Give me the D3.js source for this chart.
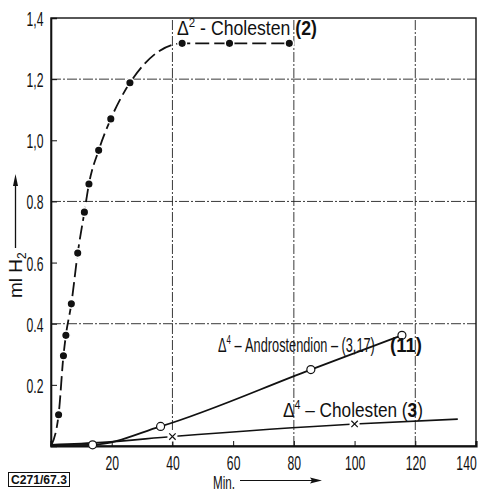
<!DOCTYPE html>
<html><head><meta charset="utf-8">
<script src="https://cdn.jsdelivr.net/npm/d3@7"></script>
<style>body{margin:0;background:#fff} svg{display:block}</style>
</head><body><svg id="c" width="479" height="496"></svg>
<script>
// ---- data ----
const xTicks = [20, 40, 60, 80, 100, 120, 140];
const yTicks = [0.2, 0.4, 0.6, 0.8, 1.0, 1.2, 1.4];
const yTickLabels = ["0.2", "0.4", "0.6", "0.8", "1,0", "1,2", "1,4"];
const gridX = [40, 80, 120];
const gridY = [0.4, 0.8, 1.2];
// Δ2-Cholesten (2), filled circles
const chol2Min = [2.5, 4.1, 4.9, 6.7, 8.8, 11.0, 12.5, 15.7, 19.7, 26.0, 43.2, 58.8, 78.5];
const chol2H2  = [0.102, 0.295, 0.362, 0.465, 0.631, 0.765, 0.857, 0.967, 1.070, 1.188, 1.317, 1.317, 1.317];
const chol2StartMin = [0], chol2StartH2 = [0];
// Δ4-Androstendion-(3,17) (11), open circles
const andrMin = [13.7, 36.1, 85.6, 115.6];
const andrH2  = [0.004, 0.064, 0.250, 0.362];
const andrStartMin = [0], andrStartH2 = [0.003];
// Δ4-Cholesten (3), crosses
const chol3Min = [40, 100];
const chol3H2  = [0.031, 0.072];
const chol3LineMin = [0, 17, 40, 100, 134];
const chol3LineH2  = [0.004, 0.012, 0.031, 0.072, 0.088];

// ---- layout ----
const svg = d3.select("#c");
const F = "'Liberation Sans', Arial, sans-serif";
const x = d3.scaleLinear().domain([0, 140]).range([51, 476]);
const y = d3.scaleLinear().domain([0, 1.4]).range([446, 18]);
const zip = (a, b) => a.map((v, i) => [v, b[i]]);

// grid
const grid = svg.append("g").attr("stroke", "#222").attr("stroke-width", 0.9)
  .attr("stroke-dasharray", "10,2,2,2");
grid.selectAll(".gx").data(gridX).join("line")
  .attr("x1", d => x(d)).attr("x2", d => x(d)).attr("y1", y(0)).attr("y2", y(1.4));
grid.selectAll(".gy").data(gridY).join("line")
  .attr("x1", x(0)).attr("x2", x(140)).attr("y1", d => y(d)).attr("y2", d => y(d));

// frame
svg.append("rect").attr("x", x(0)).attr("y", y(1.4)).attr("width", x(140) - x(0))
  .attr("height", y(0) - y(1.4)).attr("fill", "none").attr("stroke", "#111").attr("stroke-width", 1.4);

// axes
const sxT = 0.58;
const xAxis = svg.append("g").attr("transform", `translate(0,${y(0)})`)
  .call(d3.axisBottom(x).tickValues(xTicks).tickSize(-5).tickFormat(d3.format("d")));
xAxis.select(".domain").attr("stroke-width", 2.2).attr("stroke", "#111");
xAxis.selectAll(".tick line").attr("stroke", "#111").attr("stroke-width", 1);
xAxis.selectAll(".tick text").attr("font-family", F).attr("font-size", 21).attr("fill", "#111")
  .attr("y", 24).attr("dy", 0)
  .attr("x", d => d === 140 ? -10 / sxT : 0)
  .attr("transform", `scale(${sxT},1)`);

const yAxis = svg.append("g").attr("transform", `translate(${x(0)},0)`)
  .call(d3.axisLeft(y).tickValues(yTicks).tickSize(-6).tickFormat((d, i) => yTickLabels[i]));
yAxis.select(".domain").attr("stroke-width", 1.6).attr("stroke", "#111");
yAxis.selectAll(".tick line").attr("stroke", "#111").attr("stroke-width", 1);
yAxis.selectAll(".tick text").attr("font-family", F).attr("font-size", 21).attr("fill", "#111")
  .attr("x", -7.5 / sxT).attr("dy", "0.36em").attr("transform", `scale(${sxT},1)`);

// lines
const line = d3.line().x(d => x(d[0])).y(d => y(d[1])).curve(d3.curveMonotoneX);
svg.append("path").datum(zip(chol2StartMin.concat(chol2Min), chol2StartH2.concat(chol2H2)))
  .attr("d", line).attr("fill", "none").attr("stroke", "#111").attr("stroke-width", 1.8)
  .attr("stroke-dasharray", "14,5");
svg.append("path").datum(zip(andrStartMin.concat(andrMin), andrStartH2.concat(andrH2)))
  .attr("d", line).attr("fill", "none").attr("stroke", "#111").attr("stroke-width", 1.8);
svg.append("path").datum(zip(chol3LineMin, chol3LineH2))
  .attr("d", line).attr("fill", "none").attr("stroke", "#111").attr("stroke-width", 1.6);

// markers
svg.append("g").selectAll("circle").data(zip(chol2Min, chol2H2)).join("circle")
  .attr("cx", d => x(d[0])).attr("cy", d => y(d[1])).attr("r", 4.3)
  .attr("fill", "#111").attr("stroke", "#fff").attr("stroke-width", 1.5);
svg.append("g").selectAll("circle").data(zip(andrMin, andrH2)).join("circle")
  .attr("cx", d => x(d[0])).attr("cy", d => y(d[1])).attr("r", 4)
  .attr("fill", "#fff").attr("stroke", "#111").attr("stroke-width", 1.2);
const cr = svg.append("g").selectAll("g").data(zip(chol3Min, chol3H2)).join("g")
  .attr("transform", d => `translate(${x(d[0])},${y(d[1])})`);
cr.append("rect").attr("x", -5).attr("y", -5).attr("width", 10).attr("height", 10).attr("fill", "#fff");
cr.append("path").attr("d", "M-3.2,-3.2L3.2,3.2M-3.2,3.2L3.2,-3.2").attr("stroke", "#111").attr("stroke-width", 1.2);

// text helper: fit to target width
function fitText(px, py, width, fs, build, rot) {
  const t = svg.append("text").attr("font-family", F).attr("font-size", fs).attr("fill", "#111");
  build(t);
  const w = t.node().getBBox().width;
  t.attr("transform", `translate(${px},${py})${rot ? " rotate(" + rot + ")" : ""} scale(${width / w},1)`);
  return t;
}
fitText(177, 35, 140, 20, t => {
  t.append("tspan").text("Δ");
  t.append("tspan").attr("dy", -8).attr("font-size", 13).text("2");
  t.append("tspan").attr("dy", 8).text(" - Cholesten  ");
  t.append("tspan").attr("font-weight", "bold").text("(2)");
});
fitText(218, 351.5, 157, 21, t => {
  t.append("tspan").text("Δ");
  t.append("tspan").attr("dy", -8).attr("font-size", 13).text("4");
  t.append("tspan").attr("dy", 8).text(" – Androstendion – (3,17)");
});
fitText(390, 351.5, 32, 21, t => {
  t.append("tspan").attr("font-weight", "bold").text("(11)");
});
fitText(283, 416.5, 140, 21, t => {
  t.append("tspan").text("Δ");
  t.append("tspan").attr("dy", -8).attr("font-size", 13).text("4");
  t.append("tspan").attr("dy", 8).text(" – Cholesten (");
  t.append("tspan").attr("font-weight", "bold").text("3");
  t.append("tspan").text(")");
});

// y title + arrow
fitText(22, 298, 46, 19, t => {
  t.append("tspan").text("ml  H");
  t.append("tspan").attr("dy", 4).attr("font-size", 12).text("2");
}, -90);
svg.append("line").attr("x1", 15.5).attr("x2", 15.5).attr("y1", 248).attr("y2", 180)
  .attr("stroke", "#111").attr("stroke-width", 1.3);
svg.append("path").attr("d", "M15.5,174 L13,186 L18,186 Z").attr("fill", "#111");

// x title + arrow
fitText(213, 489, 22, 19, t => t.text("Min."));
svg.append("line").attr("x1", 240).attr("x2", 316).attr("y1", 480.5).attr("y2", 480.5)
  .attr("stroke", "#111").attr("stroke-width", 1.1);
svg.append("path").attr("d", "M322,480.5 L310,477.5 L312,480.5 L310,483.5 Z").attr("fill", "#111");

// code box
svg.append("rect").attr("x", 8.5).attr("y", 472.5).attr("width", 61).attr("height", 14)
  .attr("fill", "none").attr("stroke", "#111").attr("stroke-width", 1);
fitText(11, 484, 56, 13, t => t.attr("font-weight", "bold").text("C271/67.3"));
</script></body></html>
